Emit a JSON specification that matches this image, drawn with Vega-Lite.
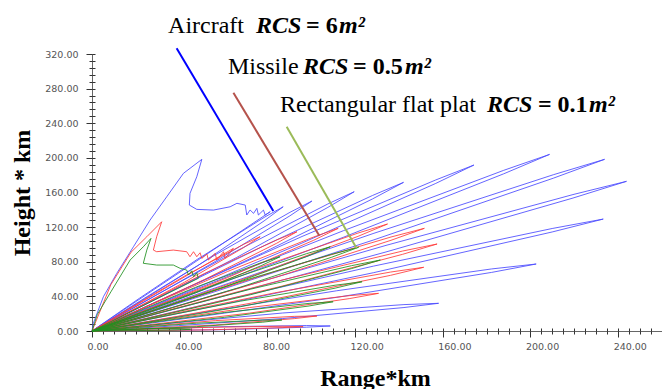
{
  "$schema": "https://vega.github.io/schema/vega-lite/v6.json",
  "width": 570,
  "height": 277,
  "autosize": {"type": "none"},
  "padding": {"left": 92, "top": 54, "right": 0, "bottom": 58},
  "background": "white",
  "config": {"view": {"stroke": null}, "font": "Liberation Serif"},
  "resolve": {"axis": {"x": "independent", "y": "independent"}},
  "datasets": {
    "blue": [
      {"o":1,"x":0,"y":0},{"o":2,"x":0.6,"y":8.9},{"o":3,"x":5.2,"y":39.6},{"o":4,"x":11.3,"y":66.6},{"o":5,"x":18.9,"y":97.3},{"o":6,"x":26.5,"y":128.2},{"o":7,"x":34.1,"y":155.1},{"o":8,"x":41.7,"y":182.1},{"o":9,"x":50.1,"y":198.3},{"o":10,"x":47.8,"y":178.2},{"o":11,"x":44.7,"y":159},{"o":12,"x":44.4,"y":145.5},{"o":13,"x":47.8,"y":140.5},{"o":14,"x":55.4,"y":139.7},{"o":15,"x":63,"y":143.5},{"o":16,"x":66.1,"y":147.5},{"o":17,"x":69.9,"y":145.5},{"o":18,"x":70.6,"y":134},{"o":19,"x":72.1,"y":139.8},{"o":20,"x":73.7,"y":135.9},{"o":21,"x":75.2,"y":141.7},{"o":22,"x":75.9,"y":134},{"o":23,"x":78.2,"y":139.7},{"o":24,"x":79,"y":134},{"o":25,"x":81.3,"y":137.8},{"o":26,"x":0,"y":0},
      {"o":27,"x":21.8,"y":38.1},{"o":28,"x":48,"y":82.7},{"o":29,"x":78.5,"y":131.2},{"o":30,"x":87.2,"y":143.5},{"o":31,"x":78.5,"y":127.2},{"o":32,"x":48,"y":75.1},{"o":33,"x":21.8,"y":33.7},{"o":34,"x":0,"y":0},
      {"o":35,"x":25.1,"y":39.7},{"o":36,"x":55.2,"y":86.4},{"o":37,"x":90.3,"y":137.1},{"o":38,"x":100.3,"y":150.1},{"o":39,"x":90.3,"y":133.1},{"o":40,"x":55.2,"y":78.8},{"o":41,"x":25.1,"y":35.3},{"o":42,"x":0,"y":0},
      {"o":43,"x":29.9,"y":42.4},{"o":44,"x":65.8,"y":92.3},{"o":45,"x":107.6,"y":146.8},{"o":46,"x":119.6,"y":160.9},{"o":47,"x":107.6,"y":142.8},{"o":48,"x":65.8,"y":84.7},{"o":49,"x":29.9,"y":38},{"o":50,"x":0,"y":0},
      {"o":51,"x":35.5,"y":45.1},{"o":52,"x":78.2,"y":98.2},{"o":53,"x":127.9,"y":156.5},{"o":54,"x":142.1,"y":171.7},{"o":55,"x":127.9,"y":152.5},{"o":56,"x":78.2,"y":90.6},{"o":57,"x":35.5,"y":40.7},{"o":58,"x":0,"y":0},
      {"o":59,"x":43.6,"y":50.1},{"o":60,"x":95.8,"y":109.2},{"o":61,"x":156.8,"y":174.5},{"o":62,"x":174.2,"y":191.7},{"o":63,"x":156.8,"y":170.5},{"o":64,"x":95.8,"y":101.6},{"o":65,"x":43.6,"y":45.7},{"o":66,"x":0,"y":0},
      {"o":67,"x":52.2,"y":53.2},{"o":68,"x":114.8,"y":116},{"o":69,"x":187.8,"y":185.6},{"o":70,"x":208.7,"y":204},{"o":71,"x":187.8,"y":181.6},{"o":72,"x":114.8,"y":108.4},{"o":73,"x":52.2,"y":48.8},{"o":74,"x":0,"y":0},
      {"o":75,"x":58.5,"y":51.8},{"o":76,"x":128.6,"y":112.9},{"o":77,"x":210.4,"y":180.5},{"o":78,"x":233.8,"y":198.3},{"o":79,"x":210.4,"y":176.5},{"o":80,"x":128.6,"y":105.3},{"o":81,"x":58.5,"y":47.4},{"o":82,"x":0,"y":0},
      {"o":83,"x":61,"y":45.4},{"o":84,"x":134.1,"y":98.9},{"o":85,"x":219.4,"y":157.6},{"o":86,"x":243.8,"y":172.9},{"o":87,"x":219.4,"y":153.6},{"o":88,"x":134.1,"y":91.3},{"o":89,"x":61,"y":41},{"o":90,"x":0,"y":0},
      {"o":91,"x":58.3,"y":34.5},{"o":92,"x":128.3,"y":74.9},{"o":93,"x":209.9,"y":118.4},{"o":94,"x":233.2,"y":129.3},{"o":95,"x":209.9,"y":114.4},{"o":96,"x":128.3,"y":67.3},{"o":97,"x":58.3,"y":30.1},{"o":98,"x":0,"y":0},
      {"o":99,"x":50.7,"y":21.6},{"o":100,"x":111.4,"y":46.4},{"o":101,"x":182.3,"y":71.7},{"o":102,"x":202.6,"y":77.4},{"o":103,"x":182.3,"y":67.7},{"o":104,"x":111.4,"y":38.8},{"o":105,"x":50.7,"y":17.2},{"o":106,"x":0,"y":0},
      {"o":107,"x":39.5,"y":9.8},{"o":108,"x":87,"y":20.8},{"o":109,"x":142.3,"y":30.5},{"o":110,"x":158.1,"y":32},{"o":111,"x":142.3,"y":27.1},{"o":112,"x":87,"y":14.4},{"o":113,"x":39.5,"y":6.2},{"o":114,"x":0,"y":0},
      {"o":115,"x":27.2,"y":2.5},{"o":116,"x":59.8,"y":5},{"o":117,"x":97.8,"y":6.3},{"o":118,"x":108.7,"y":5.8},{"o":119,"x":97.8,"y":4.4},{"o":120,"x":59.8,"y":1.5},{"o":121,"x":27.2,"y":0.6},{"o":122,"x":0,"y":0}
    ],
    "red": [
      {"o":1,"x":0,"y":0},{"o":2,"x":8.6,"y":53.5},{"o":3,"x":17.8,"y":91},{"o":4,"x":25,"y":108.9},{"o":5,"x":31.8,"y":126.2},{"o":6,"x":29.5,"y":108.9},{"o":7,"x":28,"y":93.5},{"o":8,"x":29.5,"y":91.6},{"o":9,"x":37.1,"y":93.5},{"o":10,"x":43.2,"y":91.6},{"o":11,"x":44.7,"y":85.8},{"o":12,"x":46.3,"y":91.6},{"o":13,"x":47.8,"y":85.8},{"o":14,"x":49.3,"y":90.4},{"o":15,"x":50.1,"y":83.9},{"o":16,"x":52.4,"y":88.9},{"o":17,"x":53.1,"y":82},{"o":18,"x":56.2,"y":89.7},{"o":19,"x":56.9,"y":82},{"o":20,"x":60,"y":91.6},{"o":21,"x":60.7,"y":83.9},{"o":22,"x":64.5,"y":95.5},{"o":23,"x":0,"y":0},
      {"o":24,"x":19.2,"y":29.2},{"o":25,"x":42.2,"y":63.4},{"o":26,"x":69,"y":99.9},{"o":27,"x":76.7,"y":108.9},{"o":28,"x":69,"y":96.1},{"o":29,"x":42.2,"y":56.4},{"o":30,"x":19.2,"y":25.2},{"o":31,"x":0,"y":0},
      {"o":32,"x":23.4,"y":30.7},{"o":33,"x":51.4,"y":66.6},{"o":34,"x":84.2,"y":105.1},{"o":35,"x":93.5,"y":114.7},{"o":36,"x":84.2,"y":101.3},{"o":37,"x":51.4,"y":59.6},{"o":38,"x":23.4,"y":26.7},{"o":39,"x":0,"y":0},
      {"o":40,"x":28.1,"y":31.7},{"o":41,"x":61.8,"y":68.7},{"o":42,"x":101.1,"y":108.6},{"o":43,"x":112.3,"y":118.6},{"o":44,"x":101.1,"y":104.8},{"o":45,"x":61.8,"y":61.7},{"o":46,"x":28.1,"y":27.7},{"o":47,"x":0,"y":0},
      {"o":48,"x":33.7,"y":32.9},{"o":49,"x":74.1,"y":71.5},{"o":50,"x":121.3,"y":113.1},{"o":51,"x":134.8,"y":123.6},{"o":52,"x":121.3,"y":109.3},{"o":53,"x":74.1,"y":64.5},{"o":54,"x":33.7,"y":28.9},{"o":55,"x":0,"y":0},
      {"o":56,"x":37.9,"y":31.7},{"o":57,"x":83.4,"y":68.7},{"o":58,"x":136.4,"y":108.6},{"o":59,"x":151.6,"y":118.6},{"o":60,"x":136.4,"y":104.8},{"o":61,"x":83.4,"y":61.7},{"o":62,"x":37.9,"y":27.7},{"o":63,"x":0,"y":0},
      {"o":64,"x":39.4,"y":27.1},{"o":65,"x":86.6,"y":58.8},{"o":66,"x":141.7,"y":92.4},{"o":67,"x":157.4,"y":100.5},{"o":68,"x":141.7,"y":88.6},{"o":69,"x":86.6,"y":51.8},{"o":70,"x":39.4,"y":23.1},{"o":71,"x":0,"y":0},
      {"o":72,"x":37.8,"y":20.4},{"o":73,"x":83.2,"y":44},{"o":74,"x":136.2,"y":68.1},{"o":75,"x":151.3,"y":73.6},{"o":76,"x":136.2,"y":64.3},{"o":77,"x":83.2,"y":37},{"o":78,"x":37.8,"y":16.4},{"o":79,"x":0,"y":0},
      {"o":80,"x":32.7,"y":12.6},{"o":81,"x":71.9,"y":27.1},{"o":82,"x":117.6,"y":40.9},{"o":83,"x":130.7,"y":43.5},{"o":84,"x":117.6,"y":37.5},{"o":85,"x":71.9,"y":20.7},{"o":86,"x":32.7,"y":9.2},{"o":87,"x":0,"y":0},
      {"o":88,"x":25.7,"y":5.5},{"o":89,"x":56.4,"y":12},{"o":90,"x":92.3,"y":16.9},{"o":91,"x":102.6,"y":17.3},{"o":92,"x":92.3,"y":14.3},{"o":93,"x":56.4,"y":7},{"o":94,"x":25.7,"y":3.1},{"o":95,"x":0,"y":0},
      {"o":96,"x":24.1,"y":2},{"o":97,"x":53,"y":4.2},{"o":98,"x":86.7,"y":5.5},{"o":99,"x":96.3,"y":5},{"o":100,"x":86.7,"y":3.9},{"o":101,"x":53,"y":1.3},{"o":102,"x":24.1,"y":0.5},{"o":103,"x":0,"y":0}
    ],
    "green": [
      {"o":1,"x":0,"y":0},{"o":2,"x":2.4,"y":19},{"o":3,"x":8.8,"y":46},{"o":4,"x":17.4,"y":82},{"o":5,"x":23.4,"y":97.3},{"o":6,"x":26.9,"y":107},{"o":7,"x":25,"y":93.5},{"o":8,"x":23.4,"y":78.2},{"o":9,"x":29.5,"y":76.2},{"o":10,"x":37.1,"y":76.2},{"o":11,"x":40.2,"y":72.4},{"o":12,"x":43.2,"y":70.4},{"o":13,"x":44,"y":64.7},{"o":14,"x":45.5,"y":69.6},{"o":15,"x":46.3,"y":62.7},{"o":16,"x":47.8,"y":67.3},{"o":17,"x":48.5,"y":60.9},{"o":18,"x":0,"y":0},
      {"o":19,"x":21.5,"y":23.3},{"o":20,"x":47.2,"y":50.4},{"o":21,"x":77.2,"y":78.9},{"o":22,"x":85.8,"y":85.8},{"o":23,"x":77.2,"y":75.5},{"o":24,"x":47.2,"y":44},{"o":25,"x":21.5,"y":19.7},{"o":26,"x":0,"y":0},
      {"o":27,"x":27.2,"y":26.1},{"o":28,"x":59.8,"y":56.7},{"o":29,"x":97.8,"y":89.3},{"o":30,"x":108.7,"y":97.3},{"o":31,"x":97.8,"y":85.9},{"o":32,"x":59.8,"y":50.3},{"o":33,"x":27.2,"y":22.5},{"o":34,"x":0,"y":0},
      {"o":35,"x":30.4,"y":26},{"o":36,"x":66.9,"y":56.4},{"o":37,"x":109.4,"y":88.7},{"o":38,"x":121.6,"y":96.7},{"o":39,"x":109.4,"y":85.3},{"o":40,"x":66.9,"y":50},{"o":41,"x":30.4,"y":22.4},{"o":42,"x":0,"y":0},
      {"o":43,"x":32.9,"y":22.3},{"o":44,"x":72.3,"y":48.3},{"o":45,"x":118.4,"y":75.5},{"o":46,"x":131.5,"y":82},{"o":47,"x":118.4,"y":72.1},{"o":48,"x":72.3,"y":41.9},{"o":49,"x":32.9,"y":18.7},{"o":50,"x":0,"y":0},
      {"o":51,"x":30.8,"y":16},{"o":52,"x":67.8,"y":34.5},{"o":53,"x":110.9,"y":52.9},{"o":54,"x":123.2,"y":56.9},{"o":55,"x":110.9,"y":49.5},{"o":56,"x":67.8,"y":28.1},{"o":57,"x":30.8,"y":12.4},{"o":58,"x":0,"y":0},
      {"o":59,"x":27.5,"y":10},{"o":60,"x":60.5,"y":21.4},{"o":61,"x":99,"y":31.9},{"o":62,"x":110,"y":33.8},{"o":63,"x":99,"y":28.9},{"o":64,"x":60.5,"y":15.8},{"o":65,"x":27.5,"y":7},{"o":66,"x":0,"y":0},
      {"o":67,"x":21.7,"y":4.2},{"o":68,"x":47.6,"y":9},{"o":69,"x":77.9,"y":12.6},{"o":70,"x":86.6,"y":12.7},{"o":71,"x":77.9,"y":10.2},{"o":72,"x":47.6,"y":5},{"o":73,"x":21.7,"y":2.2},{"o":74,"x":0,"y":0},
      {"o":75,"x":11.3,"y":1.2},{"o":76,"x":24.8,"y":2.6},{"o":77,"x":40.5,"y":2.6},{"o":78,"x":45,"y":2},{"o":79,"x":40.5,"y":1.4},{"o":80,"x":24.8,"y":0.6},{"o":81,"x":11.3,"y":0.3},{"o":82,"x":0,"y":0}
    ],
    "pointers": [
      {"c":"Aircraft","x":38.6,"y":326.6,"x2":82.7,"y2":138.6},
      {"c":"Missile","x":64.5,"y":275.3,"x2":103.7,"y2":110.1},
      {"c":"Plate","x":88.8,"y":236,"x2":120.7,"y2":95.5}
    ],
    "names": [
      {"t":"Aircraft","x":34.7,"y":343.9},
      {"t":"Missile","x":62,"y":296.9},
      {"t":"Rectangular flat plat","x":85.8,"y":253.3}
    ],
    "mathItalic": [
      {"t":"RCS","x":74.8,"y":343.9},{"t":"m²","x":112.7,"y":343.9},
      {"t":"RCS","x":96.2,"y":296.9},{"t":"m²","x":142.8,"y":296.9},
      {"t":"RCS","x":180.2,"y":253.3},{"t":"m²","x":226.7,"y":253.3}
    ],
    "mathBold": [
      {"t":"= 6","x":97.6,"y":343.9},
      {"t":"= 0.5","x":119.1,"y":296.9},
      {"t":"= 0.1","x":203.4,"y":253.3}
    ]
  },
  "layer": [
    {
      "data": {"name": "blue"},
      "mark": {"type": "line", "color": "#4a4aff", "strokeWidth": 1, "opacity": 0.85},
      "encoding": {
        "x": {"field": "x", "type": "quantitative", "scale": {"domain": [0, 260], "nice": false, "zero": false},
          "axis": {"orient": "bottom", "title": "Range*km", "values": [0,40,80,120,160,200,240], "format": ".2f",
            "labelFont": "DejaVu Sans", "labelFontSize": 9.5, "labelColor": "#555", "labelAlign": "left", "labelOffset": -5, "labelBaseline": "top", "labelPadding": 4, "labelOverlap": false, "labelFlush": false, "labelBound": false,
            "tickColor": "#333", "tickSize": 6,
            "domainColor": "#666", "grid": false,
            "titleFont": "Liberation Serif", "titleFontSize": 24, "titleFontWeight": "bold", "titleColor": "#000",
            "titleX": 283, "titleY": 54, "titleAlign": "center", "titleBaseline": "alphabetic"}},
        "y": {"field": "y", "type": "quantitative", "scale": {"domain": [0, 320], "nice": false, "zero": false},
          "axis": {"orient": "left", "title": "Height * km", "values": [0,40,80,120,160,200,240,280,320], "format": ".2f",
            "labelFont": "DejaVu Sans", "labelFontSize": 9.5, "labelColor": "#555", "labelPadding": 8, "labelOverlap": false, "labelFlush": false, "labelBound": false,
            "tickColor": "#333", "tickSize": 6,
            "domainColor": "#666", "grid": false,
            "titleFont": "Liberation Serif", "titleFontSize": 24, "titleFontWeight": "bold", "titleColor": "#000",
            "titleX": -70, "titleY": 138.5, "titleAngle": -90, "titleAlign": "center", "titleBaseline": "middle"}},
        "order": {"field": "o", "type": "quantitative"}
      }
    },
    {
      "data": {"name": "red"},
      "mark": {"type": "line", "color": "#ff3a3a", "strokeWidth": 1, "opacity": 0.85},
      "encoding": {
        "x": {"field": "x", "type": "quantitative",
          "axis": {"orient": "bottom", "title": null, "labels": false, "domain": false, "grid": false, "tickColor": "#333", "tickSize": -3,
            "values": [0,5,10,15,20,25,30,35,40,45,50,55,60,65,70,75,80,85,90,95,100,105,110,115,120,125,130,135,140,145,150,155,160,165,170,175,180,185,190,195,200,205,210,215,220,225,230,235,240,245,250,255,260]}},
        "y": {"field": "y", "type": "quantitative",
          "axis": {"orient": "left", "title": null, "labels": false, "domain": false, "grid": false, "tickColor": "#333", "tickSize": -3,
            "values": [0,8,16,24,32,40,48,56,64,72,80,88,96,104,112,120,128,136,144,152,160,168,176,184,192,200,208,216,224,232,240,248,256,264,272,280,288,296,304,312,320]}},
        "order": {"field": "o", "type": "quantitative"}
      }
    },
    {
      "data": {"name": "green"},
      "mark": {"type": "line", "color": "#1f8f1f", "strokeWidth": 1, "opacity": 0.85},
      "encoding": {
        "x": {"field": "x", "type": "quantitative",
          "axis": {"orient": "bottom", "title": null, "labels": false, "domain": false, "grid": false, "tickColor": "#333", "tickSize": 3,
            "values": [0,5,10,15,20,25,30,35,40,45,50,55,60,65,70,75,80,85,90,95,100,105,110,115,120,125,130,135,140,145,150,155,160,165,170,175,180,185,190,195,200,205,210,215,220,225,230,235,240,245,250,255,260]}},
        "y": {"field": "y", "type": "quantitative",
          "axis": {"orient": "left", "title": null, "labels": false, "domain": false, "grid": false, "tickColor": "#333", "tickSize": 3,
            "values": [0,8,16,24,32,40,48,56,64,72,80,88,96,104,112,120,128,136,144,152,160,168,176,184,192,200,208,216,224,232,240,248,256,264,272,280,288,296,304,312,320]}},
        "order": {"field": "o", "type": "quantitative"}
      }
    },
    {
      "data": {"name": "pointers"},
      "mark": {"type": "rule", "strokeWidth": 2},
      "encoding": {
        "x": {"field": "x", "type": "quantitative", "axis": null},
        "y": {"field": "y", "type": "quantitative", "axis": null},
        "x2": {"field": "x2"},
        "y2": {"field": "y2"},
        "color": {"field": "c", "type": "nominal", "legend": null,
          "scale": {"domain": ["Aircraft", "Missile", "Plate"], "range": ["#0000ff", "#b5534c", "#9bbb59"]}}
      }
    },
    {
      "data": {"name": "names"},
      "mark": {"type": "text", "font": "Liberation Serif", "fontSize": 24, "align": "left", "baseline": "alphabetic", "color": "#000"},
      "encoding": {
        "x": {"field": "x", "type": "quantitative", "axis": null},
        "y": {"field": "y", "type": "quantitative", "axis": null},
        "text": {"field": "t"}
      }
    },
    {
      "data": {"name": "mathItalic"},
      "mark": {"type": "text", "font": "Liberation Serif", "fontSize": 24, "fontWeight": "bold", "fontStyle": "italic", "align": "left", "baseline": "alphabetic", "color": "#000"},
      "encoding": {
        "x": {"field": "x", "type": "quantitative", "axis": null},
        "y": {"field": "y", "type": "quantitative", "axis": null},
        "text": {"field": "t"}
      }
    },
    {
      "data": {"name": "mathBold"},
      "mark": {"type": "text", "font": "Liberation Serif", "fontSize": 24, "fontWeight": "bold", "align": "left", "baseline": "alphabetic", "color": "#000"},
      "encoding": {
        "x": {"field": "x", "type": "quantitative", "axis": null},
        "y": {"field": "y", "type": "quantitative", "axis": null},
        "text": {"field": "t"}
      }
    }
  ]
}
